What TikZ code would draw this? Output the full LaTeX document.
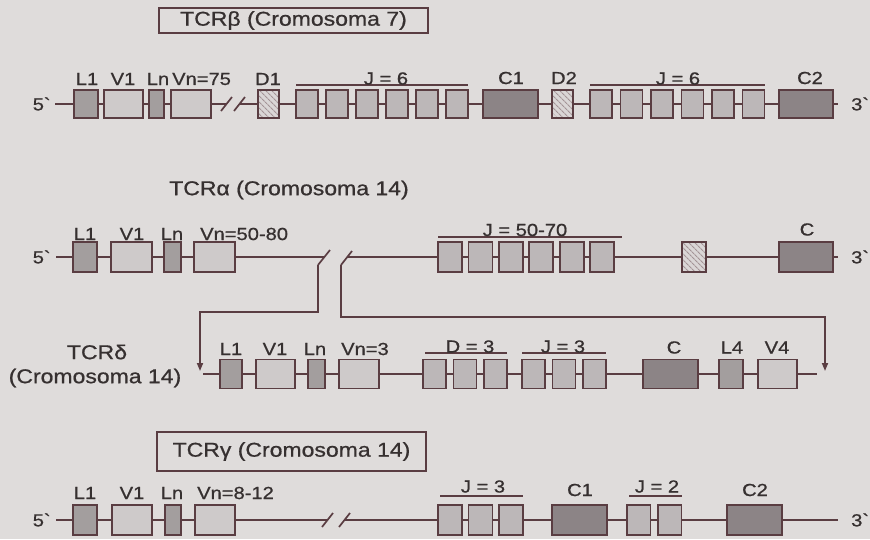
\documentclass[tikz,border=0pt]{standalone}
\usepackage{fontspec}
\setmainfont[FakeStretch=1.15, RawFeature={embolden=0.8}]{Liberation Sans}
\usetikzlibrary{arrows.meta,patterns.meta}
\definecolor{bg}{HTML}{DFDCDB}
\definecolor{lc}{HTML}{5A3D42}
\definecolor{lite}{HTML}{CECACA}
\definecolor{jcol}{HTML}{BCB7B8}
\definecolor{mid}{HTML}{A39E9E}
\definecolor{dark}{HTML}{8C8486}
\definecolor{hat}{HTML}{DAD6D6}
\definecolor{tc}{HTML}{363030}
\tikzset{
  ln/.style={draw=lc, line width=1.7pt},
  seg/.style={draw=lc, line width=1.8pt, inner sep=0pt, outer sep=0pt, minimum height=29pt},
  lseg/.style={seg, fill=lite},
  jseg/.style={seg, fill=jcol},
  mseg/.style={seg, fill=mid},
  dseg/.style={seg, fill=dark},
  hseg/.style={seg, fill=hat, postaction={pattern={Lines[angle=-45,distance=4pt,line width=1.1pt]}, pattern color=lc!55}, postaction={draw=lc, line width=1.8pt}},
  lbl/.style={text=tc, font=\fontsize{17.5}{19}\selectfont, inner sep=0pt},
  ttl/.style={text=tc, font=\fontsize{20}{22}\selectfont, inner sep=0pt},
  tbox/.style={draw=lc, line width=1.5pt},
  arr/.style={ln, -{Triangle[length=8pt,width=6pt]}},
}
\newcommand{\gb}[5]{%
  \pgfmathsetmacro{\gbc}{(#3+#4)/2}\pgfmathsetmacro{\gbw}{#4-#3}%
  \node[#2, minimum width=\gbw pt] (#1) at (\gbc,#5) {};}
\begin{document}
\begin{tikzpicture}[x=1pt,y=-1pt]
\fill[bg] (0,0) rectangle (870,539);
\useasboundingbox (0,0) rectangle (870,539);

% ---------- Row 1: TCR beta ----------
\node[tbox, ttl, minimum width=269pt, minimum height=25pt] (t1) at (293.5,20.5) {TCRβ (Cromosoma 7)};
\node[lbl, anchor=east] (f1) at (50,104) {5\textasciigrave};
\coordinate (s1) at (55,104);
\begin{scope}[seg/.append style={minimum height=28pt}]
\gb{aL1}{mseg}{74}{98}{104}
\gb{aV1}{lseg}{104}{143}{104}
\gb{aLn}{mseg}{149}{164}{104}
\gb{aVn}{lseg}{171}{211}{104}
\gb{aD1}{hseg}{258}{279}{104}
\foreach \i/\s in {1/296,2/326,3/356,4/386,5/416,6/446}{\gb{aJ\i}{jseg}{\s}{\s+22}{104}}
\gb{aC1}{dseg}{483}{538}{104}
\gb{aD2}{hseg}{552}{573}{104}
\foreach \i/\s in {1/590,2/620.5,3/651,4/681.5,5/712,6/742.5}{\gb{aK\i}{jseg}{\s}{\s+22}{104}}
\gb{aC2}{dseg}{779}{833}{104}
\end{scope}
\coordinate (k1a) at (226.5,104);
\coordinate (k1b) at (239.5,104);
\coordinate (e1) at (838,104);
\node[lbl, anchor=west] (g1) at (851,104) {3\textasciigrave};
\foreach \a/\b in {s1/aL1,aL1/aV1,aV1/aLn,aLn/aVn,aVn/k1a,k1b/aD1,aD1/aJ1,aJ1/aJ2,aJ2/aJ3,aJ3/aJ4,aJ4/aJ5,aJ5/aJ6,aJ6/aC1,aC1/aD2,aD2/aK1,aK1/aK2,aK2/aK3,aK3/aK4,aK4/aK5,aK5/aK6,aK6/aC2,aC2/e1}{\draw[ln] (\a) -- (\b);}
\draw[ln] (221,111) -- (232,97);
\draw[ln] (234,111) -- (245,97);
\draw[ln] ([yshift=5pt]aJ1.north west) -- ([yshift=5pt]aJ6.north east);
\draw[ln] ([yshift=5pt]aK1.north west) -- ([yshift=5pt]aK6.north east);
\node[lbl] (la1) at (87,79) {L1};
\node[lbl] (la2) at (123,79) {V1};
\node[lbl] (la3) at (158,79) {Ln};
\node[lbl, anchor=west] (la4) at (172,79) {Vn=75};
\node[lbl] (la5) at (268,79) {D1};
\node[lbl] (la6) at (386,78.5) {J = 6};
\node[lbl] (la7) at (511,78) {C1};
\node[lbl] (la8) at (564,78) {D2};
\node[lbl] (la9) at (678,78.5) {J = 6};
\node[lbl] (la10) at (810,78) {C2};

% ---------- Row 2: TCR alpha ----------
\node[ttl] (t2) at (289,190) {TCRα (Cromosoma 14)};
\node[lbl, anchor=east] (f2) at (50,257) {5\textasciigrave};
\coordinate (s2) at (56,257);
\begin{scope}[seg/.append style={minimum height=30pt}]
\gb{bL1}{mseg}{73}{97}{257}
\gb{bV1}{lseg}{111}{152}{257}
\gb{bLn}{mseg}{164}{181}{257}
\gb{bVn}{lseg}{194}{235}{257}
\foreach \i/\s in {1/438,2/468.4,3/498.8,4/529.2,5/559.6,6/590}{\gb{bJ\i}{jseg}{\s}{\s+24}{257}}
\gb{bH}{hseg}{682}{706}{257}
\gb{bC}{dseg}{779}{833}{257}
\end{scope}
\coordinate (k2l) at (324.4,257);
\coordinate (k2r) at (347.3,257);
\coordinate (e2) at (838,257);
\node[lbl, anchor=west] (g2) at (851,257) {3\textasciigrave};
\foreach \a/\b in {s2/bL1,bL1/bV1,bV1/bLn,bLn/bVn,bVn/k2l,k2r/bJ1,bJ1/bJ2,bJ2/bJ3,bJ3/bJ4,bJ4/bJ5,bJ5/bJ6,bJ6/bH,bH/bC,bC/e2}{\draw[ln] (\a) -- (\b);}
\draw[ln] (318,265) -- (330,250);
\draw[ln] (341,265) -- (352,251);
\draw[ln] ([yshift=5pt]bJ1.north west) -- ([yshift=5pt,xshift=8pt]bJ6.north east);
\node[lbl] (lb1) at (85,234) {L1};
\node[lbl] (lb2) at (132,234) {V1};
\node[lbl] (lb3) at (172,234) {Ln};
\node[lbl, anchor=west] (lb4) at (200,234) {Vn=50-80};
\node[lbl] (lb5) at (525,230) {J = 50-70};
\node[lbl] (lb6) at (807,229.5) {C};

% connectors to TCR delta
\coordinate (k2a) at (318,265);
\coordinate (k2b) at (341,265);
\coordinate (ta) at (200,371);
\coordinate (tb) at (825,371);
\draw[arr] (k2a) -- ++(0,47) -| (ta);
\draw[arr] (k2b) -- ++(0,52) -| (tb);

% ---------- Row 3: TCR delta ----------
\node[ttl] (t3a) at (97,352) {TCRδ};
\node[ttl] (t3b) at (95,378) {(Cromosoma 14)};
\coordinate (s3) at (203,374);
\begin{scope}[seg/.append style={minimum height=29pt}]
\gb{cL1}{mseg}{220}{242}{374}
\gb{cV1}{lseg}{256}{295}{374}
\gb{cLn}{mseg}{308}{325}{374}
\gb{cVn}{lseg}{339}{379}{374}
\foreach \i/\s in {1/423,2/453.5,3/484}{\gb{cD\i}{jseg}{\s}{\s+23}{374}}
\foreach \i/\s in {1/522,2/552.5,3/583}{\gb{cJ\i}{jseg}{\s}{\s+23}{374}}
\gb{cC}{dseg}{643}{698}{374}
\gb{cL4}{mseg}{719}{743}{374}
\gb{cV4}{lseg}{758}{797}{374}
\end{scope}
\coordinate (e3) at (817,374);
\foreach \a/\b in {s3/cL1,cL1/cV1,cV1/cLn,cLn/cVn,cVn/cD1,cD1/cD2,cD2/cD3,cD3/cJ1,cJ1/cJ2,cJ2/cJ3,cJ3/cC,cC/cL4,cL4/cV4,cV4/e3}{\draw[ln] (\a) -- (\b);}
\draw[ln] ([yshift=6.5pt,xshift=2pt]cD1.north west) -- ([yshift=6.5pt]cD3.north east);
\draw[ln] ([yshift=6.5pt]cJ1.north west) -- ([yshift=6.5pt]cJ3.north east);
\node[lbl] (lc1) at (231,349) {L1};
\node[lbl] (lc2) at (275,349) {V1};
\node[lbl] (lc3) at (315,349) {Ln};
\node[lbl, anchor=west] (lc4) at (341,349) {Vn=3};
\node[lbl] (lc5) at (470,346.5) {D = 3};
\node[lbl] (lc6) at (563,346.5) {J = 3};
\node[lbl] (lc7) at (674,347.5) {C};
\node[lbl] (lc8) at (732,347.5) {L4};
\node[lbl] (lc9) at (777,347.5) {V4};

% ---------- Row 4: TCR gamma ----------
\node[tbox, ttl, minimum width=269pt, minimum height=39pt] (t4) at (291.5,451.5) {TCRγ (Cromosoma 14)};
\node[lbl, anchor=east] (f4) at (50,520) {5\textasciigrave};
\coordinate (s4) at (56,520);
\begin{scope}[seg/.append style={minimum height=30pt}]
\gb{dL1}{mseg}{73}{97}{520}
\gb{dV1}{lseg}{112}{152}{520}
\gb{dLn}{mseg}{165}{181}{520}
\gb{dVn}{lseg}{195}{235}{520}
\foreach \i/\s in {1/438,2/468.5,3/499}{\gb{dJ\i}{jseg}{\s}{\s+24}{520}}
\gb{dC1}{dseg}{552}{607}{520}
\foreach \i/\s in {1/627,2/658}{\gb{dK\i}{jseg}{\s}{\s+23.5}{520}}
\gb{dC2}{dseg}{727}{782}{520}
\end{scope}
\coordinate (k4l) at (327.5,520);
\coordinate (k4r) at (344.5,520);
\coordinate (e4) at (838,520);
\node[lbl, anchor=west] (g4) at (851,520) {3\textasciigrave};
\foreach \a/\b in {s4/dL1,dL1/dV1,dV1/dLn,dLn/dVn,dVn/k4l,k4r/dJ1,dJ1/dJ2,dJ2/dJ3,dJ3/dC1,dC1/dK1,dK1/dK2,dK2/dC2,dC2/e4}{\draw[ln] (\a) -- (\b);}
\draw[ln] (322,527) -- (333,513);
\draw[ln] (339,527) -- (350,513);
\draw[ln] ([yshift=9pt,xshift=2pt]dJ1.north west) -- ([yshift=9pt]dJ3.north east);
\draw[ln] ([yshift=9pt,xshift=2pt]dK1.north west) -- ([yshift=9pt]dK2.north east);
\node[lbl] (ld1) at (85,493) {L1};
\node[lbl] (ld2) at (132,493) {V1};
\node[lbl] (ld3) at (172,493) {Ln};
\node[lbl, anchor=west] (ld4) at (197,493) {Vn=8-12};
\node[lbl] (ld5) at (483,486.5) {J = 3};
\node[lbl] (ld6) at (580,490) {C1};
\node[lbl] (ld7) at (657,486.5) {J = 2};
\node[lbl] (ld8) at (755,490) {C2};
\end{tikzpicture}
\end{document}
